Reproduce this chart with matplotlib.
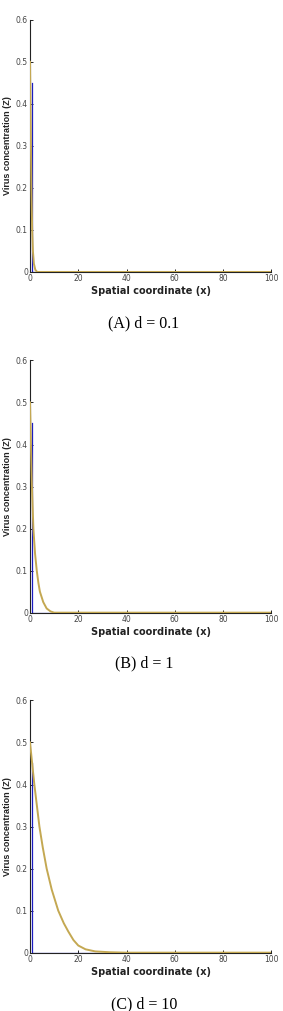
import matplotlib
matplotlib.use("Agg")
import matplotlib.pyplot as plt

# initial pulse edge (blue) and the spread-out profile (tan)
PULSE_X = [1, 1, 100]
PULSE_Z = [0.45, 0, 0]

A_X = [0, 0.3, 0.6, 0.9, 1.2, 1.6, 2.2, 3, 100]
A_Z = [0.5, 0.35, 0.2, 0.1, 0.05, 0.02, 0.005, 0, 0]

B_X = [0, 0.4, 0.8, 1.4, 2.1, 2.8, 3.5, 4.1, 5.5, 6.9, 8.5, 10, 100]
B_Z = [0.5, 0.4, 0.3, 0.2, 0.14, 0.1, 0.07, 0.05, 0.025, 0.01, 0.003, 0, 0]

C_X = [0, 1.8, 3.9, 5.3, 6.9, 9, 11.7, 14, 15.9, 18, 20, 23, 27, 33, 40, 100]
C_Z = [0.5, 0.4, 0.3, 0.25, 0.2, 0.15, 0.1, 0.07, 0.05, 0.03, 0.017, 0.008,
       0.003, 0.001, 0, 0]

CAPTIONS = ["(A) d = 0.1", "(B) d = 1", "(C) d = 10"]
X_TICKS = [0, 20, 40, 60, 80, 100]
Y_TICKS = [0, 0.1, 0.2, 0.3, 0.4, 0.5, 0.6]

BLUE, TAN = "#1c1cc0", "#c4a852"

fig = plt.figure(figsize=(2.83, 10.11), dpi=100)
bottoms = [0.731, 0.394, 0.0577]
cap_y = [1 - 323 / 1011, 1 - 663 / 1011, 1 - 1004 / 1011]

for (xs, zs), b, cap, cy in zip([(A_X, A_Z), (B_X, B_Z), (C_X, C_Z)],
                                bottoms, CAPTIONS, cap_y):
    ax = fig.add_axes([0.106, b, 0.853, 0.2495])
    ax.plot(PULSE_X, PULSE_Z, color=BLUE, lw=0.9, zorder=2)
    ax.plot(xs, zs, color=TAN, lw=1.4, zorder=3)
    ax.set_xlim(0, 100)
    ax.set_ylim(0, 0.6)
    ax.set_xticks(X_TICKS)
    ax.set_yticks(Y_TICKS)
    ax.set_xticklabels([str(t) for t in X_TICKS])
    ax.set_yticklabels(["0"] + [f"{t:.1f}" for t in Y_TICKS[1:]])
    for s in ("top", "right"):
        ax.spines[s].set_visible(False)
    for s in ("left", "bottom"):
        ax.spines[s].set_color("#222222")
        ax.spines[s].set_linewidth(0.8)
    ax.tick_params(direction="in", length=2.5, width=0.6, labelsize=5.5,
                   labelcolor="#444444", pad=1.5)
    for lab in ax.get_xticklabels() + ax.get_yticklabels():
        lab.set_family(["Liberation Sans Narrow", "DejaVu Sans"])
    ax.set_xlabel("Spatial coordinate (x)", fontsize=7, fontweight="bold",
                  family=["Liberation Sans Narrow", "DejaVu Sans"],
                  color="#222222", labelpad=2)
    ax.set_ylabel("Virus concentration (Z)", fontsize=6.5, fontweight="bold",
                  family=["Liberation Sans", "DejaVu Sans"],
                  color="#222222", labelpad=3)
    fig.text(0.509, cy, cap, ha="center", va="center", fontsize=11.5,
             family=["Liberation Serif", "DejaVu Serif"])

fig.savefig("out.png", dpi=100)
